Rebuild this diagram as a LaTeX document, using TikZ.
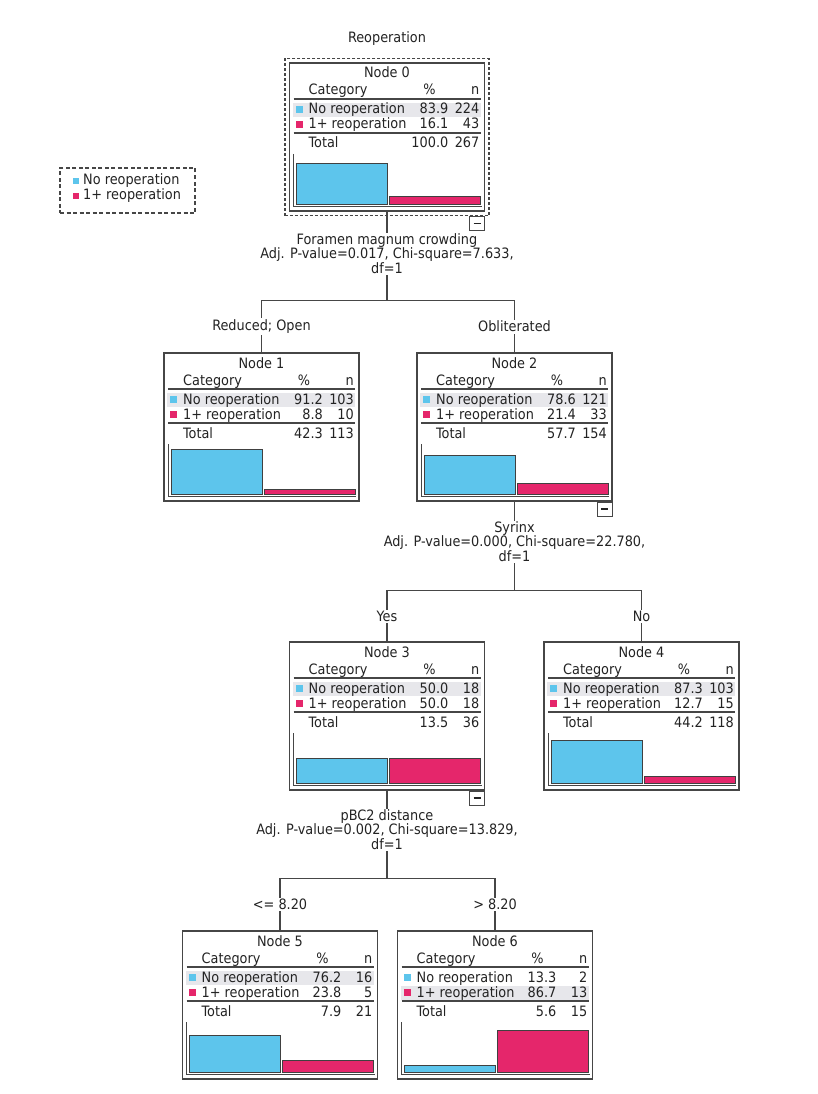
\documentclass[tikz,border=0pt]{standalone}
\usepackage{fontspec}
\setmainfont{DejaVu Sans Condensed}
\usepackage{tikz}
\usetikzlibrary{positioning,calc,fit}

\definecolor{catblue}{RGB}{93,197,236}
\definecolor{catpink}{RGB}{229,38,107}
\definecolor{rowgray}{RGB}{231,231,235}
\definecolor{framegray}{RGB}{70,70,70}
\definecolor{txtgray}{RGB}{35,35,35}

% one tree node: number, centre x, top y, %1, n1, %2, n2, total %, total n
\newcommand{\catnode}[9]{%
  \node[treebox] (node#1) at (#2,#3+74) {};
  \begin{scope}[shift={(#2-97.5,#3)}]
    \ifdim #4pt<#6pt
      \fill[rowgray] (3,55) rectangle (191,69);
    \else
      \fill[rowgray] (3,40) rectangle (191,54);
    \fi
    \node[anchor=base] (title#1) at (97.5,15) {Node #1};
    \node[anchor=base west] (cat#1) at (19,32) {Category};
    \node[anchor=base] (pct#1) at (140,32) {\%};
    \node[anchor=base east] (cnt#1) at (190,32) {n};
    \draw[rule] (4,36) -- (191,36);
    \fill[catblue] (6,43) rectangle (13,50);
    \node[anchor=base west] (la#1) at (19,51) {No reoperation};
    \node[anchor=base east] (pa#1) at (159,51) {#4};
    \node[anchor=base east] (na#1) at (190,51) {#5};
    \fill[catpink] (6,58) rectangle (13,65);
    \node[anchor=base west] (lb#1) at (19,66) {1+ reoperation};
    \node[anchor=base east] (pb#1) at (159,66) {#6};
    \node[anchor=base east] (nb#1) at (190,66) {#7};
    \draw[rule] (4,70) -- (191,70);
    \node[anchor=base west] (tot#1) at (19,85) {Total};
    \node[anchor=base east] (pt#1) at (159,85) {#8};
    \node[anchor=base east] (nt#1) at (190,85) {#9};
    % bars
    \draw[bar, fill=catblue] (7,141) rectangle (98,{141-0.485*#4});
    \draw[bar, fill=catpink] (100,141) rectangle (191,{141-0.485*#6});
    \draw[axis] (4,91) -- (4,143) -- (192,143);
  \end{scope}}

\begin{document}
\begin{tikzpicture}[
    x=1pt, y=-1pt,
    every node/.style={font=\fontsize{14.3}{14.5}\selectfont, text=txtgray, inner sep=0pt},
    treebox/.style={rectangle, draw=framegray, line width=1.1pt, fill=white, minimum width=195pt, minimum height=148pt},
    selbox/.style={rectangle, draw=framegray, line width=1.2pt, dashed, dash pattern=on 3pt off 2pt, inner sep=4pt},
    minusbox/.style={rectangle, draw=framegray, line width=1pt, fill=white, minimum width=15pt, minimum height=14pt},
    legbox/.style={rectangle, draw=framegray, line width=1.1pt, dash pattern=on 4pt off 2.5pt, minimum width=135pt, minimum height=45pt},
    splitlbl/.style={fill=white, align=center, inner sep=1pt},
    brlbl/.style={fill=white, inner sep=1.5pt},
    rule/.style={draw=framegray, line width=1.2pt},
    bar/.style={draw=black!75, line width=0.9pt},
    axis/.style={draw=framegray, line width=1pt},
    edge/.style={draw=framegray, line width=1.2pt}
]
    \useasboundingbox[fill=white] (0,0) rectangle (817,1094);

    % Title and legend
    \node[anchor=base] (target) at (387,43) {Reoperation};
    \node[legbox] (legend) at (127.5,190.5) {};
    \fill[catblue] (73,178) rectangle (79,184);
    \node[anchor=base west] (leg1) at (83,185) {No reoperation};
    \fill[catpink] (73,193) rectangle (79,199);
    \node[anchor=base west] (leg2) at (83,200) {1+ reoperation};

    % Nodes
    \catnode{0}{387}{63}{83.9}{224}{16.1}{43}{100.0}{267}
    \node[selbox, fit=(node0)] (sel0) {};
    \catnode{1}{261.5}{353}{91.2}{103}{8.8}{10}{42.3}{113}
    \catnode{2}{514.5}{353}{78.6}{121}{21.4}{33}{57.7}{154}
    \catnode{3}{387}{642}{50.0}{18}{50.0}{18}{13.5}{36}
    \catnode{4}{641.5}{642}{87.3}{103}{12.7}{15}{44.2}{118}
    \catnode{5}{280}{931}{76.2}{16}{23.8}{5}{7.9}{21}
    \catnode{6}{495}{931}{13.3}{2}{86.7}{13}{5.6}{15}

    % Collapse boxes
    \node[minusbox, anchor=north east] (min0) at (sel0.south -| node0.east) {\rule{7pt}{1.2pt}};
    \node[minusbox, anchor=north east] (min2) at (node2.south east) {\rule{7pt}{1.2pt}};
    \node[minusbox, anchor=north east] (min3) at (node3.south east) {\rule{7pt}{1.2pt}};

    % Splits
    \coordinate (j0) at ($(node0.south)+(0,89)$);
    \coordinate (j2) at ($(node2.south)+(0,89)$);
    \coordinate (j3) at ($(node3.south)+(0,88)$);
    \draw[edge] (node0.south) -- (j0) -| (node1.north);
    \draw[edge] (j0) -| (node2.north);
    \draw[edge] (node2.south) -- (j2) -| (node3.north);
    \draw[edge] (j2) -| (node4.north);
    \draw[edge] (node3.south) -- (j3) -| (node5.north);
    \draw[edge] (j3) -| (node6.north);

    \node[splitlbl] (split0) at ($(j0)+(0,-47)$) {Foramen magnum crowding\\Adj. P-value=0.017, Chi-square=7.633,\\df=1};
    \node[splitlbl] (split2) at ($(j2)+(0,-49)$) {Syrinx\\Adj. P-value=0.000, Chi-square=22.780,\\df=1};
    \node[splitlbl] (split3) at ($(j3)+(0,-49)$) {pBC2 distance\\Adj. P-value=0.002, Chi-square=13.829,\\df=1};

    % Branch labels
    \node[brlbl] (br1) at ($(j0 -| node1.north)+(0,26)$) {Reduced; Open};
    \node[brlbl] (br2) at ($(j0 -| node2.north)+(0,26)$) {Obliterated};
    \node[brlbl] (br3) at ($(j2 -| node3.north)+(0,26)$) {Yes};
    \node[brlbl] (br4) at ($(j2 -| node4.north)+(0,26)$) {No};
    \node[brlbl] (br5) at ($(j3 -| node5.north)+(0,26)$) {<= 8.20};
    \node[brlbl] (br6) at ($(j3 -| node6.north)+(0,26)$) {> 8.20};
\end{tikzpicture}
\end{document}
